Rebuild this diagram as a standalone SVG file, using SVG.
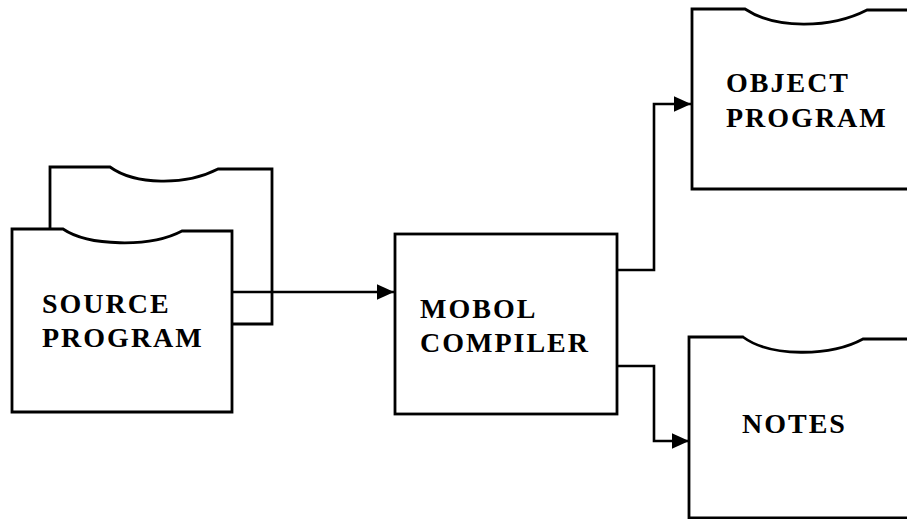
<svg xmlns="http://www.w3.org/2000/svg" width="907" height="519" viewBox="0 0 907 519">
<style>
.s{fill:#fff;stroke:#000;stroke-width:2.8;stroke-linejoin:miter}
.c{fill:none;stroke:#000;stroke-width:2.6}
.t{font-family:"Liberation Serif","Times New Roman",serif;font-weight:bold;font-size:28px;letter-spacing:2px;fill:#000}
</style>
<defs>
<marker id="ah" viewBox="0 0 10 10" refX="10" refY="5" markerWidth="17" markerHeight="17" markerUnits="userSpaceOnUse" orient="auto">
<path d="M0,0.5 L10,5 L0,9.5 Z" fill="#000"/>
</marker>
</defs>
<rect width="907" height="519" fill="#fff"/>
<g id="source-back">
<path class="s" d="M50,324 L50,167 L110,167 C135,185 185,186 218,169 L272,169 L272,324 Z"/>
</g>
<g id="connectors">
<path class="c" d="M232,292 L394,292" marker-end="url(#ah)"/>
<path class="c" d="M617,270 L654,270 L654,104 L691,104" marker-end="url(#ah)"/>
<path class="c" d="M617,366 L654,366 L654,441 L689,441" marker-end="url(#ah)"/>
</g>
<g id="source-program">
<path class="s" d="M12,412 L12,229 L63,229 C88,246 150,248 182,231 L232,231 L232,412 Z"/>
<text class="t" x="42" y="313">SOURCE</text>
<text class="t" x="42" y="347">PROGRAM</text>
</g>
<g id="mobol-compiler">
<rect class="s" x="395" y="234" width="222" height="180"/>
<text class="t" x="420" y="318">MOBOL</text>
<text class="t" x="420" y="352">COMPILER</text>
</g>
<g id="object-program">
<path class="s" d="M910,189 L692,189 L692,9 L745,9 C775,29 830,29 867,10 L910,10"/>
<text class="t" x="726" y="92">OBJECT</text>
<text class="t" x="726" y="127">PROGRAM</text>
</g>
<g id="notes">
<path class="s" d="M910,518 L689,518 L689,337 L743,337 C770,357 830,357 863,339 L910,339"/>
<text class="t" x="742" y="433">NOTES</text>
</g>
</svg>
